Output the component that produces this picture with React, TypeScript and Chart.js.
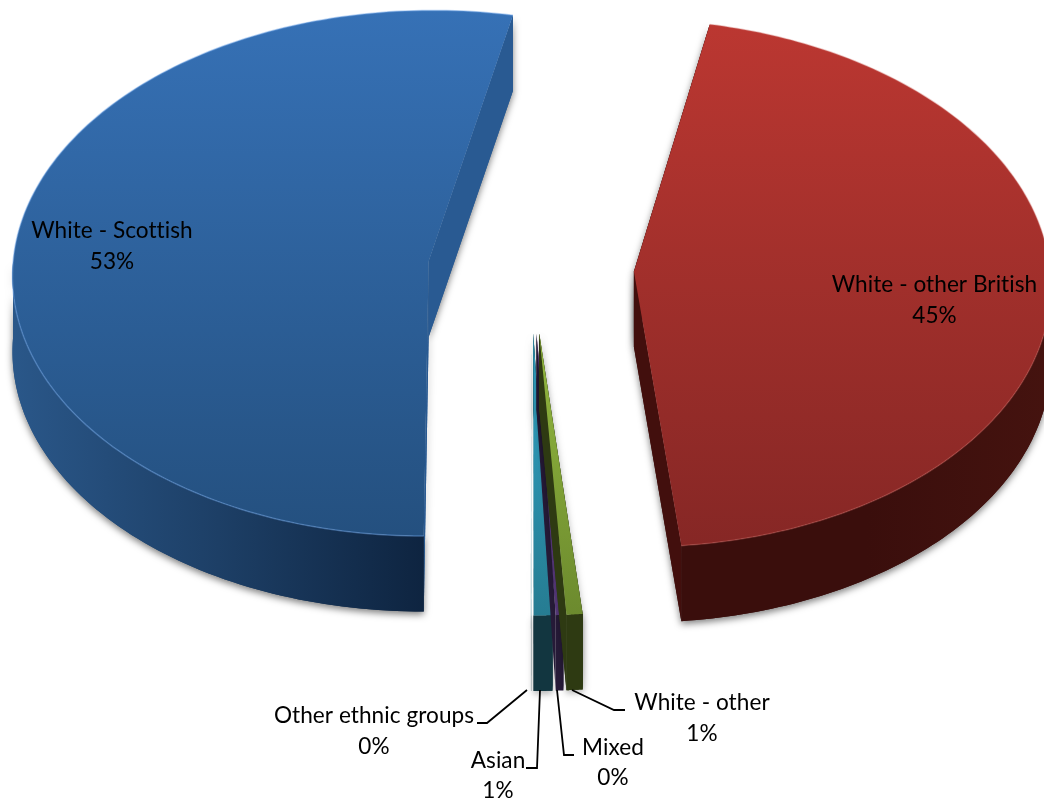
import React, { useEffect, useRef } from "react";
import { Chart, registerables } from "chart.js";

Chart.register(...registerables);

const categories = ["White - other British", "White - other", "Mixed", "Asian", "Other ethnic groups", "White - Scottish"];
const shares = [45.22, 0.59, 0.28, 0.68, 0.01, 53.22];
const percentLabels = ["45%", "1%", "0%", "1%", "0%", "53%"];

const palette = [
  { top: ["#bb3731", "#862725"], rim: ["#3a0e0c", "#3a0e0c", "#45130f"], cut: "#420f0d", edge: "rgba(205,100,95,0.35)", shadow: 0.5 },
  { top: ["#93b83f", "#6c8a2e"], rim: ["#2e3a12", "#2e3a12", "#2e3a12"], cut: "#2e3a12", edge: "", shadow: 0.3 },
  { top: ["#63408c", "#5a3a80"], rim: ["#261a38", "#261a38", "#261a38"], cut: "#261a38", edge: "", shadow: 0 },
  { top: ["#2fa3c4", "#267c92"], rim: ["#123640", "#123640", "#123640"], cut: "#123640", edge: "", shadow: 0.3 },
  { top: ["#6cc0d8", "#2f8aa2"], rim: ["#123640", "#123640", "#123640"], cut: "#123640", edge: "", shadow: 0 },
  { top: ["#3671b6", "#24507f"], rim: ["#2a5789", "#1d3f66", "#0e2440"], cut: "#295a92", edge: "rgba(110,165,230,0.45)", shadow: 0.5 },
];

const labelLayout = [
  { x: 934.5, y: 285, gap: 31 },
  { x: 702, y: 703, gap: 31 },
  { x: 613, y: 748, gap: 30 },
  { x: 498, y: 761, gap: 30 },
  { x: 374, y: 716, gap: 31 },
  { x: 112, y: 231, gap: 31 },
];

const leaders = [
  [[625, 710], [614, 710], [572, 690]],
  [[574, 755], [564, 755], [557, 690]],
  [[526, 768], [537, 768], [540, 690]],
  [[477, 723], [487, 723], [527, 690]],
];

const DEPTH = 75.5;
const K = 0.632;
const P = 0.045;

const pie3d = {
  id: "pie3d",
  beforeDatasetDraw(chart: any) {
    const ctx: CanvasRenderingContext2D = chart.ctx;
    const arcs = chart.getDatasetMeta(0).data as any[];
    const order = [5, 0, 4, 3, 2, 1];

    for (const i of order) {
      const el = arcs[i];
      const R = el.outerRadius;
      const off = el.options.offset;
      const mid = (el.startAngle + el.endAngle) / 2;
      const ou = Math.cos(mid) * off;
      const ov = Math.sin(mid) * off;
      const project = (u: number, v: number, d = 0): [number, number] => {
        const w = 1 / (1 - (P * v) / R);
        return [el.x + u * w, el.y + K * v * w + d];
      };
      const steps = 160;
      const angles: number[] = [];
      for (let s = 0; s <= steps; s++) angles.push(el.startAngle + ((el.endAngle - el.startAngle) * s) / steps);
      const rimAt = (a: number, d: number) => project(ou + Math.cos(a) * R, ov + Math.sin(a) * R, d);
      const top = angles.map((a) => rimAt(a, 0));
      const front = angles.filter((a) => Math.sin(a) >= 0);
      const frontTop = front.map((a) => rimAt(a, 0));
      const frontLow = front.map((a) => rimAt(a, DEPTH));
      const apex = project(ou, ov);
      const apexLow = project(ou, ov, DEPTH);
      const poly = (pts: [number, number][]) => {
        ctx.beginPath();
        pts.forEach((p, n) => (n ? ctx.lineTo(p[0], p[1]) : ctx.moveTo(p[0], p[1])));
        ctx.closePath();
      };
      const c = palette[i];
      const xs = frontTop.map((p) => p[0]);
      const ys = top.map((p) => p[1]).concat(apex[1]);
      const rimGrad = ctx.createLinearGradient(Math.min(...xs), 0, Math.max(...xs) + 1, 0);
      rimGrad.addColorStop(0, c.rim[0]);
      rimGrad.addColorStop(0.5, c.rim[1]);
      rimGrad.addColorStop(1, c.rim[2]);

      const first = top[0];
      const last = top[steps];
      const wallA: [number, number][] = [apex, first, [first[0], first[1] + DEPTH], apexLow];
      const wallB: [number, number][] = [apex, last, [last[0], last[1] + DEPTH], apexLow];
      const rimWall: [number, number][] = [...frontTop, ...frontLow.slice().reverse()];

      const paintWalls = () => {
        ctx.fillStyle = c.cut;
        poly(wallA);
        ctx.fill();
        poly(wallB);
        ctx.fill();
        ctx.fillStyle = rimGrad;
        poly(rimWall);
        ctx.fill();
      };

      if (c.shadow > 0) {
        ctx.save();
        ctx.shadowColor = `rgba(0,0,0,${c.shadow})`;
        ctx.shadowBlur = 7;
        ctx.shadowOffsetY = 3;
        paintWalls();
        ctx.restore();
      }
      paintWalls();

      const topGrad = ctx.createLinearGradient(0, Math.min(...ys), 0, Math.max(...ys));
      topGrad.addColorStop(0, c.top[0]);
      topGrad.addColorStop(1, c.top[1]);
      ctx.fillStyle = topGrad;
      poly([apex, ...top]);
      ctx.fill();

      if (c.edge) {
        ctx.strokeStyle = c.edge;
        ctx.lineWidth = 1.5;
        ctx.beginPath();
        top.forEach((p, n) => (n ? ctx.lineTo(p[0], p[1]) : ctx.moveTo(p[0], p[1])));
        ctx.stroke();
      }
    }

    ctx.strokeStyle = "#000";
    ctx.lineWidth = 1.8;
    for (const l of leaders) {
      ctx.beginPath();
      l.forEach((p, n) => (n ? ctx.lineTo(p[0], p[1]) : ctx.moveTo(p[0], p[1])));
      ctx.stroke();
    }

    ctx.fillStyle = "#000";
    ctx.font = '22.6px Lato, "Open Sans", sans-serif';
    (ctx as any).letterSpacing = "0.05px";
    ctx.textAlign = "center";
    ctx.textBaseline = "middle";
    categories.forEach((name, i) => {
      const t = labelLayout[i];
      ctx.fillText(name, t.x, t.y);
      ctx.fillText(percentLabels[i], t.x, t.y + t.gap);
    });
    return false;
  },
};

export default function App() {
  const ref = useRef<HTMLCanvasElement>(null);
  useEffect(() => {
    document.body.style.margin = "0";
    document.body.style.background = "#fff";
    const chart = new Chart(ref.current!, {
      type: "pie",
      data: {
        labels: categories,
        datasets: [{ data: shares, offset: 103, borderWidth: 0, backgroundColor: palette.map((p) => p.top[0]) }],
      },
      options: {
        animation: false,
        responsive: false,
        radius: 416,
        rotation: 11.6,
        layout: { padding: { left: 18, right: 0, top: 0, bottom: 264 } },
        plugins: { legend: { display: false }, tooltip: { enabled: false } },
      },
      plugins: [pie3d],
    } as any);
    return () => chart.destroy();
  }, []);
  return <canvas ref={ref} width={1044} height={800} style={{ display: "block" }} />;
}
